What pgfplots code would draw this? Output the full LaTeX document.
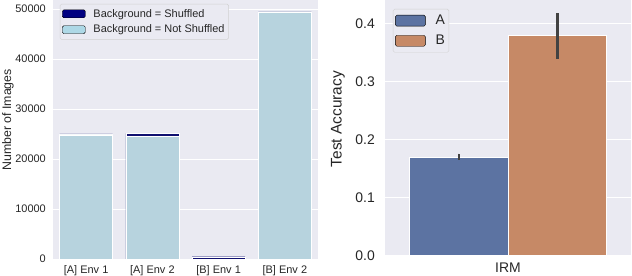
\documentclass[border=0pt]{standalone}
\usepackage{fontspec}
\setmainfont{Liberation Sans}
\usepackage{pgfplots}
\pgfplotsset{compat=1.18}
\definecolor{bgax}{HTML}{EAEAF2}
\definecolor{navyd}{RGB}{16,16,112}
\definecolor{lblued}{RGB}{183,211,222}
\definecolor{navyc}{RGB}{0,0,128}
\definecolor{lbluec}{HTML}{ADD8E6}
\definecolor{sbblue}{RGB}{92,115,162}
\definecolor{sborange}{RGB}{198,137,102}
\definecolor{txt}{HTML}{262626}
\definecolor{errc}{HTML}{424242}
\begin{document}
\begin{tikzpicture}
\useasboundingbox (0bp,0bp) rectangle (632bp,276bp);
% ---------------- left axis ----------------
\begin{axis}[
  at={(53bp,17bp)}, anchor=south west, scale only axis,
  width=265bp, height=259bp,
  xmin=-0.5, xmax=3.5, ymin=0, ymax=51800,
  axis background/.style={fill=bgax},
  axis line style={draw=none},
  major tick length=0pt,
  ymajorgrids, grid style={white, line width=0.9bp},
  xtick={0,1,2,3},
  xticklabels={{[A] Env 1},{[A] Env 2},{[B] Env 1},{[B] Env 2}},
  ytick={0,10000,20000,30000,40000,50000},
  scaled y ticks=false,
  /pgf/number format/assume math mode=true,
  /pgf/number format/.cd, fixed, set thousands separator={}, /pgfplots/.cd,
  tick label style={font=\fontsize{11}{12}\selectfont, text=txt},
  yticklabel style={anchor=east, inner sep=0pt, xshift=-7bp},
  xticklabel style={anchor=north, inner sep=0pt, yshift=-6bp},
  ylabel={Number of Images},
  ylabel style={at={(axis description cs:-0.17,0.537)}, anchor=center, font=\fontsize{12.4}{14}\selectfont, text=txt},
  legend style={at={(0.026,0.985)}, anchor=north west, fill=bgax, draw=black!18,
    rounded corners=1.5pt, font=\fontsize{11}{13}\selectfont, text=txt,
    inner xsep=2bp, inner ysep=3bp, row sep=2.5bp,
    /tikz/every odd column/.append style={column sep=6bp}},
  legend cell align=left,
  legend image code/.code={\fill[#1] (0bp,-4bp) rectangle (23bp,4bp);},
]
\addplot[ybar, bar width=0.8, bar shift=0pt, fill=navyd, draw=white, line width=0.4bp, forget plot]
  coordinates {(0,25000) (1,25100) (2,450) (3,49400)};
\addplot[ybar, bar width=0.8, bar shift=0pt, fill=lblued, draw=white, line width=0.6bp, forget plot]
  coordinates {(0,24800) (1,24500) (3,49400)};
\addlegendimage{fill=navyc}
\addlegendentry{Background = Shuffled}
\addlegendimage{fill=lbluec}
\addlegendentry{Background = Not Shuffled}
\end{axis}
% ---------------- right axis ----------------
\begin{axis}[
  at={(385bp,20.5bp)}, anchor=south west, scale only axis,
  width=246bp, height=255.5bp,
  xmin=-0.5, xmax=0.5, ymin=0, ymax=0.44,
  axis background/.style={fill=bgax},
  axis line style={draw=none},
  major tick length=0pt,
  ymajorgrids, grid style={white, line width=0.9bp},
  xtick={0}, xticklabels={IRM},
  ytick={0,0.1,0.2,0.3,0.4},
  /pgf/number format/assume math mode=true,
  /pgf/number format/.cd, fixed, fixed zerofill, precision=1, /pgfplots/.cd,
  tick label style={font=\fontsize{14}{16}\selectfont, text=txt},
  yticklabel style={anchor=east, inner sep=0pt, xshift=-10bp},
  xticklabel style={anchor=north, inner sep=0pt, yshift=-7.5bp},
  ylabel={Test Accuracy},
  ylabel style={at={(axis description cs:-0.191,0.534)}, anchor=center, font=\fontsize{15.5}{17}\selectfont, text=txt},
  legend style={at={(0.0325,0.965)}, anchor=north west, fill=bgax, draw=black!18,
    rounded corners=1.5pt, font=\fontsize{14}{16}\selectfont, text=txt,
    inner xsep=2bp, inner ysep=4bp, row sep=5bp,
    /tikz/every odd column/.append style={column sep=8bp}},
  legend cell align=left,
  legend image code/.code={\fill[#1] (0bp,-5.5bp) rectangle (30bp,5.5bp);},
]
\addplot[ybar, bar width=0.4, bar shift=0pt, fill=sbblue, draw=white, line width=0.5bp, forget plot,
  error bars/.cd, y dir=both, y explicit, error mark=none,
  error bar style={errc, line width=2.6bp}]
  coordinates {(-0.2,0.170) +- (0,0.0055)};
\addplot[ybar, bar width=0.4, bar shift=0pt, fill=sborange, draw=white, line width=0.5bp, forget plot,
  error bars/.cd, y dir=both, y explicit, error mark=none,
  error bar style={errc, line width=2.6bp}]
  coordinates {(0.2,0.380) += (0,0.037) -= (0,0.041)};
\addlegendimage{fill=sbblue}
\addlegendentry{A}
\addlegendimage{fill=sborange}
\addlegendentry{B}
\end{axis}
\end{tikzpicture}
\end{document}
